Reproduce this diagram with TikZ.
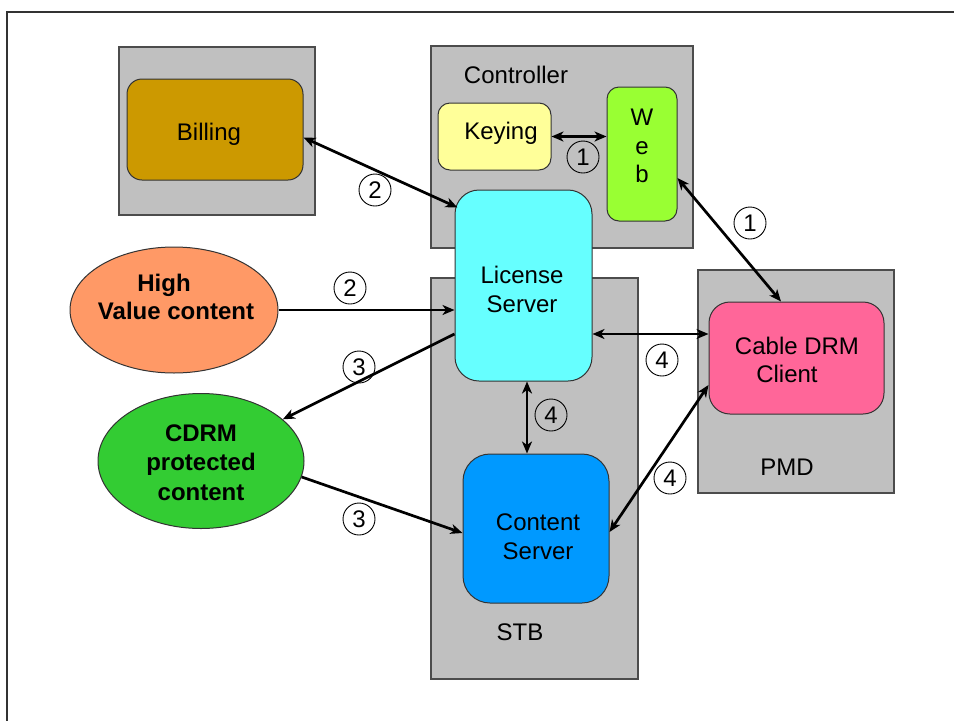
\documentclass[tikz,border=0pt]{standalone}
\usepackage{fontspec}
\setmainfont{Liberation Sans}
\usetikzlibrary{arrows.meta,shapes.geometric}
\definecolor{grayc}{HTML}{C0C0C0}
\definecolor{billc}{HTML}{CC9900}
\definecolor{keyc}{HTML}{FFFF99}
\definecolor{webc}{HTML}{99FF33}
\definecolor{licc}{HTML}{66FFFF}
\definecolor{contc}{HTML}{0099FF}
\definecolor{cablec}{HTML}{FF6699}
\definecolor{highc}{HTML}{FF9966}
\definecolor{cdrmc}{HTML}{33CC33}
\begin{document}
\begin{tikzpicture}[x=1pt,y=-1pt,
  font=\fontsize{24}{28.5}\selectfont,
  grp/.style={draw=black!70, line width=1.3pt, fill=grayc, inner sep=0pt, rectangle},
  rbox/.style={draw=black!80, line width=1pt, inner sep=0pt, rectangle},
  oval/.style={draw=black!80, line width=1pt, ellipse, inner sep=0pt},
  txt/.style={inner sep=0pt, align=center},
  num/.style={circle, draw=black, line width=0.9pt, minimum size=32pt, inner sep=0pt},
  tip/.tip={Stealth[length=12pt,width=10pt,inset=3.5pt]},
  conn/.style={line width=2.7pt, -tip},
  dconn/.style={line width=2.7pt, tip-tip}]
\useasboundingbox (0,0) rectangle (954,721);
\fill[white] (0,0) rectangle (954,721);
\draw[line width=1.5pt, black!80] (954,12) -- (7,12) -- (7,721);

% group boxes
\node[grp, minimum width=196pt, minimum height=168pt] (billg) at (217,131) {};
\node[grp, minimum width=262pt, minimum height=202pt] (ctrlg) at (562,147) {};
\node[grp, minimum width=207pt, minimum height=401pt] (stbg) at (534.5,478.5) {};
\node[grp, minimum width=196pt, minimum height=223pt] (pmdg) at (796,381.5) {};

% inner boxes
\node[rbox, fill=billc, rounded corners=15pt, minimum width=176pt, minimum height=101pt] (billing) at (215,129.5) {};
\node[rbox, fill=keyc, rounded corners=12pt, minimum width=113pt, minimum height=67pt] (keying) at (494.5,136.5) {};
\node[rbox, fill=webc, rounded corners=12pt, minimum width=70pt, minimum height=134pt] (web) at (642,154) {};
\node[rbox, fill=licc, rounded corners=24pt, minimum width=137pt, minimum height=191pt] (license) at (523.5,285.5) {};
\node[rbox, fill=contc, rounded corners=27pt, minimum width=146pt, minimum height=149pt] (content) at (536,528.5) {};
\node[rbox, fill=cablec, rounded corners=21pt, minimum width=175pt, minimum height=112pt] (cable) at (796.5,358) {};
\node[oval, fill=highc, minimum width=208pt, minimum height=126pt] (high) at (174,310) {};
\node[oval, fill=cdrmc, minimum width=206pt, minimum height=135pt] (cdrm) at (201,461) {};

% texts
\node[txt, anchor=base] (ctrlt) at (516,83) {Controller};
\node[txt, anchor=base] (keyt) at (501,139) {Keying};
\node[txt, anchor=base] (billt) at (209,140) {Billing};
\node[txt, anchor=base] (stbt) at (520,640) {STB};
\node[txt, anchor=base] (pmdt) at (787,475) {PMD};
\node[txt] (webt) at (642,146) {W\\e\\b};
\node[txt] (lict) at (522,289.5) {License\\Server};
\node[txt] (contt) at (538,536.5) {Content\\Server};
\node[txt] (cablet) at (797,360) {Cable DRM\\Client\hspace*{20pt}};
\node[txt, font=\fontsize{24}{28.5}\selectfont\bfseries] (hight) at (176,297) {High\hspace*{24pt}\\Value content};
\node[txt, font=\fontsize{24}{29.5}\selectfont\bfseries] (cdrmt) at (201,462.5) {CDRM\\protected\\content};

% connectors
\draw[dconn] (keying.east) -- (keying.east -| web.west);
\draw[dconn] ([yshift=-8pt]billing.east) -- ([xshift=3pt,yshift=-18pt]license.north west);
\draw[conn] (high.east) -- (high.east -| license.west);
\draw[conn] ([yshift=-48.5pt]license.west) -- (cdrm.27);
\draw[conn] (cdrm.-9) -- ([yshift=-4.5pt]content.west);
\coordinate (ls) at ([xshift=3.5pt]license.south);
\draw[dconn] (ls) -- (ls |- content.north);
\coordinate (le) at ([yshift=-48.5pt]license.east);
\draw[dconn] (le) -- (le -| cable.west);
\draw[dconn] ([yshift=-24pt]web.east) -- ([xshift=-15.5pt]cable.north);
\draw[dconn] ([yshift=-3.5pt]content.east) -- ([yshift=-27pt]cable.west);

% step numbers
\node[num] (n1a) at (583,157) {1};
\node[num] (n2a) at (375,190) {2};
\node[num] (n2b) at (350,288) {2};
\node[num] (n3a) at (359,367) {3};
\node[num] (n3b) at (359,519) {3};
\node[num] (n4a) at (551,415) {4};
\node[num] (n1b) at (750,223) {1};
\node[num] (n4b) at (662,360) {4};
\node[num] (n4c) at (670,478) {4};
\end{tikzpicture}
\end{document}
